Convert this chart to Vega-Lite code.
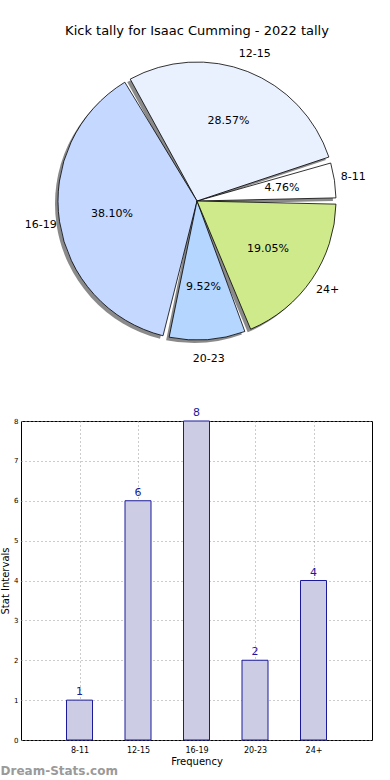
{
  "$schema": "https://vega.github.io/schema/vega-lite/v6.json",
  "padding": {"left": 0, "top": 25, "right": 0, "bottom": 0},
  "config": {"font": "DejaVu Sans", "view": {"stroke": null}},
  "datasets": {
    "tally": [
      {"range": "8-11", "count": 1, "k": 1, "pct": "4.76%"},
      {"range": "12-15", "count": 6, "k": 2, "pct": "28.57%"},
      {"range": "16-19", "count": 8, "k": 3, "pct": "38.10%"},
      {"range": "20-23", "count": 2, "k": 4, "pct": "9.52%"},
      {"range": "24+", "count": 4, "k": 5, "pct": "19.05%"}
    ]
  },
  "spacing": 42,
  "vconcat": [
    {
      "width": 352,
      "height": 318,
      "title": {"text": "Kick tally for Isaac Cumming - 2022 tally", "fontSize": 13, "fontWeight": "normal", "offset": 4, "anchor": "middle", "color": "#000"},
      "data": {"name": "tally"},
      "encoding": {
        "theta": {"field": "count", "type": "quantitative", "stack": true, "scale": {"range": [1.5708, 7.854]}},
        "order": {"field": "k", "sort": "descending"}
      },
      "layer": [
        {"mark": {"type": "arc", "outerRadius": 139, "padAngle": 0.045, "fill": "#8a8a8a", "xOffset": -3, "yOffset": 3}},
        {
          "mark": {"type": "arc", "outerRadius": 139, "padAngle": 0.045, "stroke": "#000", "strokeWidth": 0.8},
          "encoding": {
            "color": {"field": "range", "type": "nominal",
              "scale": {"domain": ["8-11", "12-15", "16-19", "20-23", "24+"], "range": ["#ffffff", "#eaf1fe", "#c5d8ff", "#b4d6ff", "#cfea8b"]},
              "legend": null}
          }
        },
        {"mark": {"type": "text", "radius": 86, "fontSize": 11, "color": "#000"}, "encoding": {"text": {"field": "pct"}}},
        {"mark": {"type": "text", "radius": 158, "fontSize": 11, "color": "#000"}, "encoding": {"text": {"field": "range"}}}
      ]
    },
    {
      "width": 351,
      "height": 319,
      "view": {"stroke": "#000", "strokeWidth": 1},
      "data": {"name": "tally"},
      "title": {"text": "Dream-Stats.com", "orient": "bottom", "anchor": "start", "frame": "bounds", "color": "#9a9a9a", "fontSize": 12, "fontWeight": "bold", "offset": 0},
      "encoding": {
        "x": {"field": "range", "type": "ordinal", "sort": ["8-11", "12-15", "16-19", "20-23", "24+"],
          "scale": {"type": "point", "padding": 1},
          "axis": {"title": "Frequency", "labelAngle": 0, "labelFontSize": 8, "titleFontSize": 10, "titleFontWeight": "normal", "titleColor": "#000", "labelColor": "#000", "grid": true, "gridDash": [1, 3], "gridColor": "#999", "ticks": false, "domain": false, "labelPadding": 6, "titlePadding": 2}},
        "y": {"field": "count", "type": "quantitative", "scale": {"domain": [0, 8]},
          "axis": {"title": "Stat Intervals", "values": [0, 1, 2, 3, 4, 5, 6, 7, 8], "labelFontSize": 7, "titleFontSize": 10, "titleFontWeight": "normal", "titleColor": "#000", "labelColor": "#000", "grid": true, "gridDash": [1, 3], "gridColor": "#999", "ticks": false, "domain": false, "labelPadding": 3, "titlePadding": 3}}
      },
      "layer": [
        {"mark": {"type": "bar", "size": 26, "fill": "#ccccE5", "stroke": "#1a1a9a", "strokeWidth": 1}},
        {"mark": {"type": "text", "dy": -8, "fontSize": 11, "color": "#1a1a9a"}, "encoding": {"text": {"field": "count"}}}
      ]
    }
  ]
}
